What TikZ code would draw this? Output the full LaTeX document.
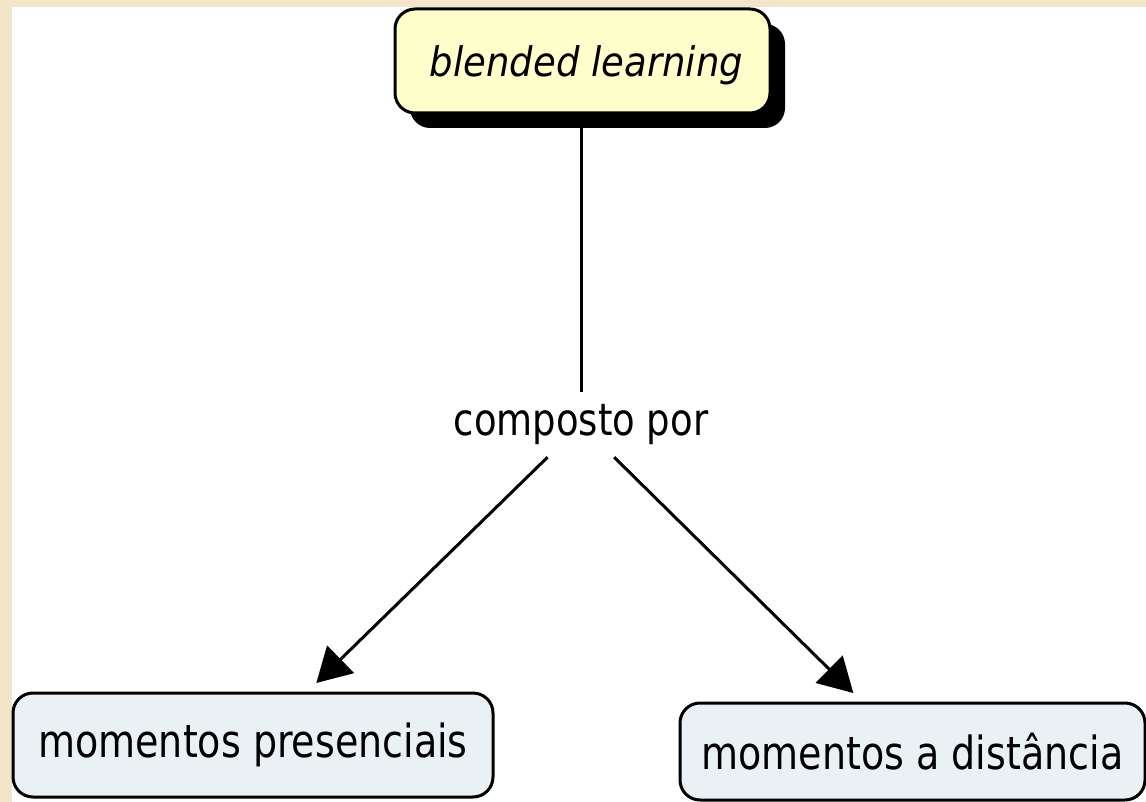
\documentclass[tikz,border=0pt]{standalone}
\usepackage{fontspec}
\setmainfont{DejaVu Sans}
\usetikzlibrary{arrows.meta,shadows}
\definecolor{pagebeige}{HTML}{F2E5C9}
\definecolor{topfill}{HTML}{FFFFCC}
\definecolor{boxfill}{HTML}{EAF1F4}
\newcommand{\talltext}[2]{\scalebox{1}[#1]{#2}}
\begin{document}
\begin{tikzpicture}[x=1pt,y=-1pt,
  concept/.style={draw=black, line width=3pt, rounded corners=20pt, inner sep=0pt, align=center,
    font=\fontsize{38}{46}\selectfont},
  linklabel/.style={inner sep=0pt, minimum height=65pt, font=\fontsize{37}{44}\selectfont},
  conn/.style={draw=black, line width=3pt},
  arr/.style={conn, -{Triangle[length=34pt,width=38pt]}}]
\fill[pagebeige] (0,0) rectangle (1146,802);
\fill[white] (12,7) rectangle (1146,802);
\useasboundingbox (0,0) rectangle (1146,802);

\node[concept, fill=topfill, minimum width=375pt, minimum height=104pt,
  font=\fontsize{37}{44}\selectfont\itshape,
  drop shadow={shadow xshift=15pt, shadow yshift=-15pt, opacity=1, fill=black}]
  (bl) at (582.5,61) {\hspace*{8pt}\raisebox{-4pt}[\height][\depth]{\talltext{1.1}{blended learning}}};
\node[linklabel] (cp) at (581,424.5) {\talltext{1.2}{composto por}};
\node[concept, fill=boxfill, minimum width=480pt, minimum height=104pt, outer sep=10pt]
  (lp) at (253,745) {\talltext{1.2}{momentos presenciais}};
\node[concept, fill=boxfill, minimum width=465pt, minimum height=97pt, outer sep=10pt]
  (rp) at (912.5,751.5) {\talltext{1.2}{momentos a distância}};

\draw[conn] (bl.south -| cp.north) -- (cp.north);
\draw[arr] (cp) -- (lp);
\draw[arr] (cp) -- (rp);
\end{tikzpicture}
\end{document}
